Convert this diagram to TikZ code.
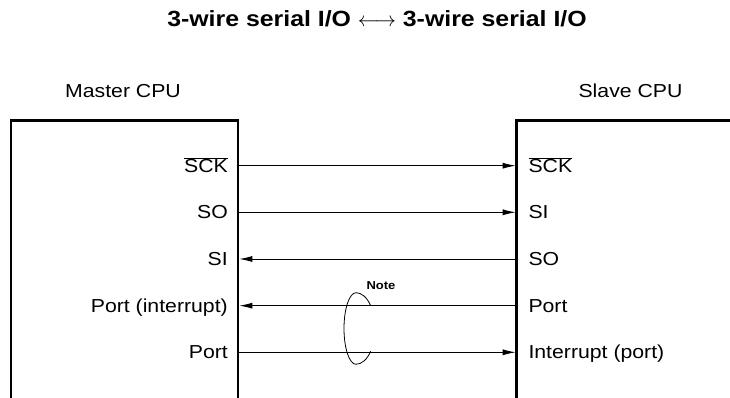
\documentclass[tikz,border=0pt]{standalone}
\usepackage{fontspec}
\setmainfont{Liberation Sans}[FakeStretch=1.13]
\usetikzlibrary{arrows.meta}

\begin{document}
\begin{tikzpicture}[x=1pt, y=1pt,
    cpu/.style={line width=2.6pt},
    wire/.style={line width=0.9pt, -{Latex[length=13pt,width=6pt]}},
    pin/.style={font=\fontsize{18.8}{22}\selectfont, inner sep=0pt},
    ttl/.style={font=\bfseries\fontsize{22}{26}\selectfont, inner sep=0pt},
    loopline/.style={line width=0.8pt}]
  \useasboundingbox (0,0) rectangle (730,398);
  % titulo
  \node[ttl, anchor=base] (title) at (377,371.6)
    {3-wire serial I/O $\longleftrightarrow$ 3-wire serial I/O};
  % ---- CPUs ----
  \node[pin, anchor=base] (master) at (123,300.8) {Master CPU};
  \node[pin, anchor=base] (slave) at (630.5,300.8) {Slave CPU};
  \draw[cpu] (11,-5) -- (11,277.7) -- (238,277.7) -- (238,-5);
  \draw[cpu] (516.7,-5) -- (516.7,277.7) -- (740,277.7);
  % ---- pinos ----
  \foreach \y/\n in {232.3/1, 185.7/2, 139/3, 92.3/4, 45.7/5} {
    \coordinate (m\n) at (239.3,\y);
    \coordinate (s\n) at (515.7,\y);
  }
  \node[pin, anchor=base east] (mlab1) at (228,225.6) {$\overline{\mbox{SCK}}$};
  \node[pin, anchor=base east] (mlab2) at (228,179) {SO};
  \node[pin, anchor=base east] (mlab3) at (228,132.3) {SI};
  \node[pin, anchor=base east] (mlab4) at (228,85.6) {Port (interrupt)};
  \node[pin, anchor=base east] (mlab5) at (228,39) {Port};
  \node[pin, anchor=base west] (slab1) at (528.3,225.6) {$\overline{\mbox{SCK}}$};
  \node[pin, anchor=base west] (slab2) at (528.3,179) {SI};
  \node[pin, anchor=base west] (slab3) at (528.3,132.3) {SO};
  \node[pin, anchor=base west] (slab4) at (528.3,85.6) {Port};
  \node[pin, anchor=base west] (slab5) at (528.3,39) {Interrupt (port)};
  % ---- ligacoes ----
  \draw[wire] (m1) -- (s1);
  \draw[wire] (m2) -- (s2);
  \draw[wire] (s3) -- (m3);
  \draw[wire] (s4) -- (m4);
  \draw[wire] (m5) -- (s5);
  % ---- nota ----
  \coordinate (loop) at (356,69.5);
  \draw[loopline] ([yshift=35.8pt]loop) arc[start angle=90, end angle=270, x radius=12, y radius=35.8];
  \draw[loopline] ([yshift=35.8pt]loop) arc[start angle=90, end angle=39.5, x radius=19, y radius=35.8];
  \draw[loopline] ([yshift=-35.8pt]loop) arc[start angle=270, end angle=320.5, x radius=19, y radius=35.8];
  \node[font=\bfseries\fontsize{11.5}{13}\selectfont, inner sep=0pt, anchor=base] (note) at (381,108.7) {Note};
\end{tikzpicture}
\end{document}
